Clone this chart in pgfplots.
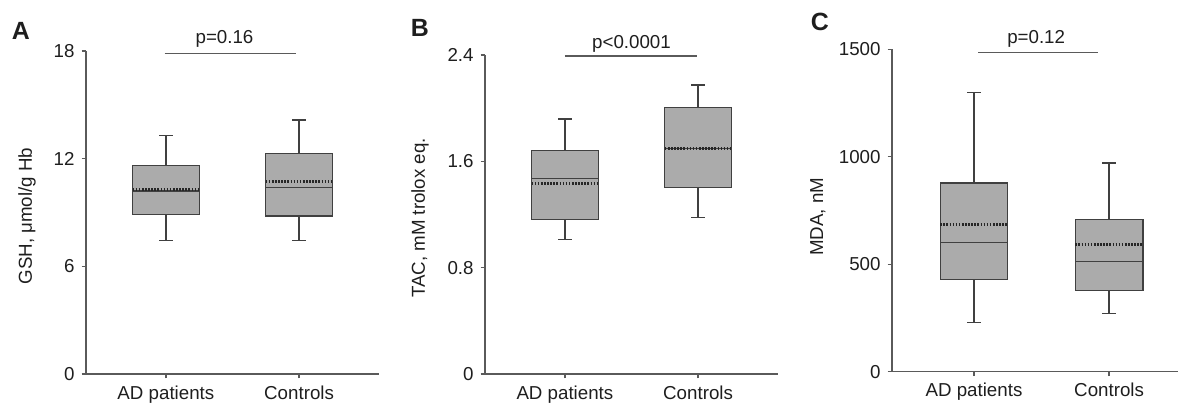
\documentclass[border=0pt]{standalone}
\usepackage{fontspec}
\setmainfont{Liberation Sans}
\usepackage{pgfplots}
\pgfplotsset{compat=1.18}
\definecolor{boxfill}{HTML}{ABABAB}
\definecolor{boxedge}{HTML}{404040}
\definecolor{axisgray}{HTML}{5A5A5A}
\definecolor{txt}{HTML}{1E1E1E}

\pgfplotsset{
  panel/.style={
    scale only axis,
    anchor=south west,
    axis x line=bottom, axis y line=left,
    axis line style={-, axisgray, line width=0.7pt},
    tick style={axisgray, line width=0.7pt},
    tick align=outside, major tick length=2.2bp,
    xtick={1,2}, xticklabels={AD patients, Controls},
    font=\fontsize{9.4}{11}\selectfont,
    every tick label/.append style={txt},
    /pgf/number format/assume math mode=true,
    clip=false,
  },
  ln/.style={boxedge, line width=0.7pt, mark=none, solid},
}

% box: position, lower whisker, lower quartile, median, mean, upper quartile, upper whisker
\newcommand\bx[7]{%
  \pgfmathsetmacro\xl{#1-0.25}\pgfmathsetmacro\xr{#1+0.25}%
  \pgfmathsetmacro\cl{#1-0.05}\pgfmathsetmacro\cr{#1+0.05}%
  \edef\tmp{%
  \noexpand\addplot[ln] coordinates {(#1,#2) (#1,#3)};
  \noexpand\addplot[ln] coordinates {(\cl,#2) (\cr,#2)};
  \noexpand\addplot[ln] coordinates {(#1,#6) (#1,#7)};
  \noexpand\addplot[ln] coordinates {(\cl,#7) (\cr,#7)};
  \noexpand\addplot[ln, fill=boxfill] coordinates {(\xl,#3) (\xr,#3) (\xr,#6) (\xl,#6)} -- cycle;
  \noexpand\addplot[ln] coordinates {(\xl,#4) (\xr,#4)};
  \noexpand\addplot[ln, black!85, line width=1.3pt, dash pattern=on 0.8bp off 0.75bp] coordinates {(\xl,#5) (\xr,#5)};
  }\tmp}

\begin{document}
\begin{tikzpicture}
\useasboundingbox (0,0) rectangle (589.5bp,202bp);

% A: GSH
\begin{axis}[panel, at={(43bp,15bp)}, width=146.5bp, height=161.5bp,
    xmin=0.4, xmax=2.6, ymin=0, ymax=18, ytick={0,6,12,18}]
\bx{1}{7.45}{8.9}{10.2}{10.29}{11.61}{13.28}
\bx{2}{7.43}{8.81}{10.41}{10.72}{12.28}{14.16}
\draw[axisgray, line width=0.7pt] (axis cs:0.99,17.87) -- (axis cs:1.98,17.87);
\node[anchor=base, txt] at (axis cs:1.44,18.43) {p=0.16};
\node[rotate=90, txt] at (axis description cs:-0.201,0.489) {GSH, μmol/g Hb};
\node[txt, font=\fontsize{12.5}{14}\selectfont\bfseries] at (axis description cs:-0.222,1.062) {A};
\end{axis}

% B: TAC
\begin{axis}[panel, at={(242.5bp,15bp)}, width=146.5bp, height=159.5bp,
    xmin=0.4, xmax=2.6, ymin=0, ymax=2.4, ytick={0,0.8,1.6,2.4},
    yticklabel style={/pgf/number format/.cd, fixed, precision=1}]
\bx{1}{1.011}{1.164}{1.472}{1.435}{1.683}{1.919}
\bx{2}{1.179}{1.405}{1.698}{1.698}{2.004}{2.175}
\draw[axisgray, line width=0.7pt] (axis cs:1.0,2.393) -- (axis cs:1.99,2.393);
\node[anchor=base, txt] at (axis cs:1.50,2.451) {p<0.0001};
\node[rotate=90, txt] at (axis description cs:-0.222,0.489) {TAC, mM trolox eq.};
\node[txt, font=\fontsize{12.5}{14}\selectfont\bfseries] at (axis description cs:-0.222,1.086) {B};
\end{axis}

% C: MDA
\begin{axis}[panel, at={(446bp,16.15bp)}, width=143bp, height=161.2bp,
    xmin=0.393, xmax=2.51, ymin=0, ymax=1500, ytick={0,500,1000,1500},
    yticklabel style={/pgf/number format/.cd, 1000 sep={}}]
\bx{1}{228}{428}{602}{686}{878}{1300}
\bx{2}{272}{377}{514}{593}{707}{971}
\draw[axisgray, line width=0.7pt] (axis cs:1.03,1486) -- (axis cs:1.92,1486);
\node[anchor=base, txt] at (axis cs:1.46,1528) {p=0.12};
\node[rotate=90, txt] at (axis description cs:-0.259,0.48) {MDA, nM};
\node[txt, font=\fontsize{12.5}{14}\selectfont\bfseries] at (axis description cs:-0.252,1.086) {C};
\end{axis}
\end{tikzpicture}
\end{document}
